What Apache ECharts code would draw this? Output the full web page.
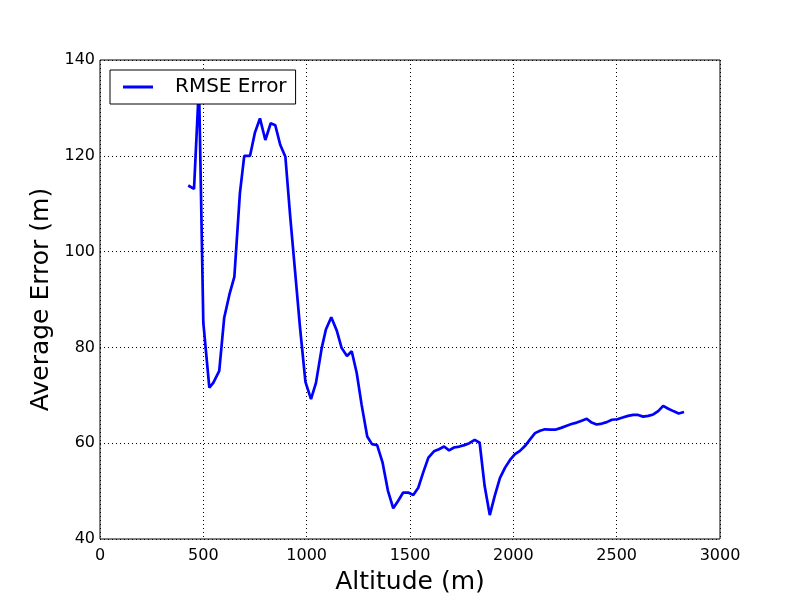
<!DOCTYPE html>
<html>
<head>
<meta charset="utf-8">
<script src="https://cdn.jsdelivr.net/npm/echarts@6/dist/echarts.min.js"></script>
<style>
html,body{margin:0;padding:0;background:#fff;}
#chart{width:800px;height:600px;}
</style>
</head>
<body>
<div id="chart"></div>
<script>
const altitudes = [427,455,479,500,529,548,577,601,626,650,677,698,726,750,774,800,826,848,872,897,920,944,968,994,1021,1045,1073,1093,1119,1145,1169,1195,1218,1242,1266,1293,1316,1341,1367,1393,1419,1443,1467,1491,1516,1540,1564,1589,1616,1640,1665,1689,1713,1739,1763,1787,1813,1837,1861,1886,1910,1935,1960,1984,2008,2032,2056,2081,2105,2129,2153,2181,2206,2231,2255,2281,2307,2331,2355,2379,2403,2429,2452,2477,2503,2529,2555,2580,2604,2628,2653,2677,2701,2725,2750,2774,2800,2826];
const rmseError = [113.8,113.1,135,85.1,71.6,72.6,75.1,86.2,91.0,94.7,112.2,120,120,124.9,127.8,123.3,126.8,126.4,122.3,119.8,107.5,95.8,84.1,72.8,69.2,72.6,79.9,83.75,86.3,83.6,79.9,78.2,79.2,74.7,68.0,61.4,59.8,59.6,56.0,50.1,46.4,48.0,49.7,49.7,49.2,50.7,53.9,57.0,58.3,58.75,59.3,58.5,59.1,59.3,59.6,60.0,60.7,60.1,51.1,45.0,49.0,52.7,54.9,56.5,57.7,58.4,59.4,60.8,62.1,62.6,62.9,62.85,62.85,63.2,63.6,64.0,64.3,64.7,65.1,64.3,63.9,64.1,64.4,64.9,65.0,65.35,65.7,65.9,65.9,65.55,65.7,66.0,66.7,67.8,67.2,66.7,66.2,66.5];
const seriesName = 'RMSE Error';
const xAxisTitle = 'Altitude (m)';
const yAxisTitle = 'Average Error (m)';

const font = 'DejaVu Sans';
const chart = echarts.init(document.getElementById('chart'), null, {renderer: 'canvas'});
const gridLine = {show: true, lineStyle: {color: '#000', width: 1, type: [1, 3]}};
chart.setOption({
  animation: false,
  backgroundColor: '#fff',
  grid: {left: 100, right: 80, top: 60, bottom: 60, show: true, borderColor: '#000', borderWidth: 1, backgroundColor: 'transparent'},
  legend: {
    show: true,
    z: 20, zlevel: 0,
    left: 110, top: 70,
    padding: [7, 9, 7, 13],
    itemWidth: 30, itemHeight: 3, itemGap: 10,
    icon: 'rect',
    backgroundColor: '#fff', borderColor: '#000', borderWidth: 1, borderRadius: 0,
    textStyle: {fontFamily: font, fontSize: 20, color: '#000', padding: [0, 0, 0, 17], lineHeight: 20},
    data: [seriesName]
  },
  xAxis: {
    type: 'value', min: 0, max: 3000, interval: 500,
    name: xAxisTitle, nameLocation: 'middle', nameGap: 31,
    nameTextStyle: {fontFamily: font, fontSize: 25, color: '#000'},
    axisLine: {show: false}, axisTick: {show: false},
    axisLabel: {fontFamily: font, fontSize: 16, color: '#000', margin: 9, formatter: v => String(v)},
    splitLine: gridLine
  },
  yAxis: {
    type: 'value', min: 40, max: 140, interval: 20,
    name: yAxisTitle, nameLocation: 'middle', nameGap: 43,
    nameTextStyle: {fontFamily: font, fontSize: 25, color: '#000'},
    axisLine: {show: false}, axisTick: {show: false},
    axisLabel: {fontFamily: font, fontSize: 16, color: '#000', margin: 5, padding: [3, 0, 0, 0], formatter: v => String(v)},
    splitLine: gridLine
  },
  series: [{
    name: seriesName,
    type: 'line',
    z: 2,
    data: altitudes.map((a, i) => [a, rmseError[i]]),
    symbol: 'none', showSymbol: false,
    clip: true,
    lineStyle: {color: '#0000ff', width: 2.7},
    itemStyle: {color: '#0000ff'}
  }]
});
</script>
</body>
</html>
